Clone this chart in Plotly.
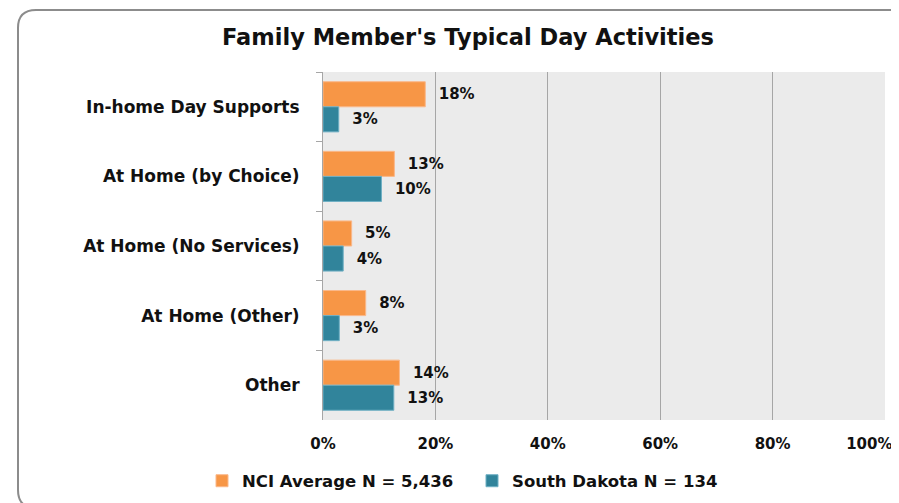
import plotly.graph_objects as go

categories = ["In-home Day Supports", "At Home (by Choice)", "At Home (No Services)", "At Home (Other)", "Other"]
nci_values = [18.2, 12.7, 5.1, 7.6, 13.6]
sd_values = [2.8, 10.4, 3.6, 2.9, 12.6]
series_names = ["NCI Average N = 5,436", "South Dakota N = 134"]
x_ticks = [0, 20, 40, 60, 80, 100]
x_tick_labels = ["0%", "20%", "40%", "60%", "80%", "100%"]

# page offset (browser body margin)
OX, OY = 8, 8
W, H = 899 - OX, 503 - OY
# plot area in screen pixels
PL, PR, PT, PB = 323, 885, 72, 420
ML, MR, MT, MB = PL - OX, W - (PR - OX), PT - OY, H - (PB - OY)
PW, PH = PR - PL, PB - PT

FONT = "DejaVu Sans"
ORANGE = "#F79646"
TEAL = "#31849B"

fig = go.Figure()
for name, vals, col, line in [(series_names[0], nci_values, ORANGE, "#FAB88A"),
                              (series_names[1], sd_values, TEAL, "#6FB0C4")]:
    fig.add_trace(go.Bar(
        y=categories, x=vals, name=name, orientation="h",
        marker=dict(color=col, line=dict(color=line, width=1)),
        texttemplate="\u00a0\u00a0%{x:.0f}%", textposition="outside",
        textfont=dict(family=FONT, size=15, color="#111111", weight="bold"),
        cliponaxis=False, hoverinfo="skip",
    ))

def px(x):
    return (x - PL) / PW

def py(y):
    return (PB - y) / PH

r = 18
x0, y0, y1, x1 = 18, 10, 508, 920
path = (f"M {px(x1)} {py(y0)} L {px(x0 + r)} {py(y0)} Q {px(x0)} {py(y0)} {px(x0)} {py(y0 + r)} "
        f"L {px(x0)} {py(y1 - r)} Q {px(x0)} {py(y1)} {px(x0 + r)} {py(y1)} L {px(x1)} {py(y1)}")

# keep the last tick label inside the visible page edge
tick_text = x_tick_labels[:-1] + [x_tick_labels[-1] + "\u00a0" * 6]

fig.update_layout(
    width=W, height=H,
    margin=dict(l=ML, r=MR, t=MT, b=MB, autoexpand=False),
    paper_bgcolor="white", plot_bgcolor="#EBEBEB",
    barmode="group", bargap=0.28, bargroupgap=0,
    title=dict(text="Family Member's Typical Day Activities", x=(468 - OX) / W, xanchor="center",
               y=1 - (37 - OY) / H, yanchor="middle",
               font=dict(family=FONT, size=22.5, color="#111111", weight="bold")),
    font=dict(family=FONT, color="#111111"),
    legend=dict(orientation="h", x=(202 - OX) / W, xref="container", xanchor="left",
                y=(H - (481 - OY)) / H, yref="container", yanchor="middle",
                font=dict(family=FONT, size=16.5, color="#111111", weight="bold"),
                itemwidth=30, entrywidth=225, entrywidthmode="pixels", traceorder="normal"),
    shapes=[dict(type="path", xref="paper", yref="paper", path=path,
                 line=dict(color="#8C8C8C", width=2), layer="above")],
    xaxis=dict(range=[0, 100], tickvals=x_ticks, ticktext=tick_text, automargin=False,
               showgrid=True, gridcolor="#A6A6A6", gridwidth=1, zeroline=False,
               showline=False, ticks="", ticklabelstandoff=13, ticklabeloverflow="allow",
               tickfont=dict(family=FONT, size=15, color="#111111", weight="bold")),
    yaxis=dict(autorange="reversed", showline=True, linecolor="#A6A6A6", linewidth=1,
               automargin=False,
               ticks="outside", tickson="boundaries", ticklen=6, tickcolor="#A6A6A6",
               ticklabelstandoff=19, showgrid=False,
               tickfont=dict(family=FONT, size=17, color="#111111", weight="bold")),
)

fig.write_html("out.html")
